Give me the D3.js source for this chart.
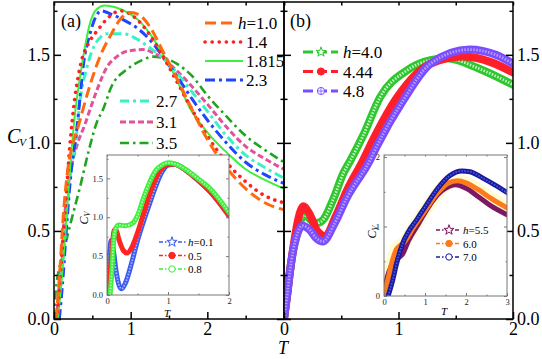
<!DOCTYPE html>
<html>
<head>
<meta charset="utf-8">
<script src="https://cdn.jsdelivr.net/npm/d3@7"></script>
<style>
body { margin: 0; background: #fff; }
svg text { font-family: "Liberation Serif", "Times New Roman", Times, serif; }
</style>
</head>
<body>
<svg id="chart" width="542" height="359"></svg>
<script>
// ---- data read off the figure : [T, Cv] ----
// panel (a), main
var a_h10 = [[0.03,0],[0.08,0.3],[0.12,0.58],[0.18,0.85],[0.25,1.0],[0.32,1.1],[0.45,1.3],[0.6,1.49],[0.75,1.62],[0.86,1.7],[1.0,1.74],[1.1,1.73],[1.25,1.66],[1.42,1.52],[1.6,1.37],[1.8,1.19],[2.0,1.02],[2.25,0.86],[2.5,0.74],[2.75,0.66],[3.0,0.62]];
var a_h14 = [[0.04,0],[0.1,0.35],[0.15,0.65],[0.2,0.95],[0.27,1.25],[0.35,1.45],[0.47,1.58],[0.57,1.64],[0.73,1.72],[0.86,1.75],[1.0,1.73],[1.15,1.67],[1.3,1.58],[1.45,1.47],[1.6,1.35],[1.8,1.19],[2.0,1.04],[2.25,0.89],[2.5,0.78],[2.75,0.7],[3.0,0.66]];
var a_h1815 = [[0.05,0],[0.1,0.22],[0.15,0.5],[0.2,0.8],[0.27,1.15],[0.36,1.43],[0.47,1.68],[0.56,1.76],[0.66,1.78],[0.8,1.77],[1.0,1.73],[1.12,1.69],[1.25,1.62],[1.45,1.48],[1.6,1.36],[1.77,1.2],[2.0,1.06],[2.29,0.93],[2.5,0.85],[2.75,0.79],[3.0,0.74]];
var a_h23 = [[0.07,0],[0.12,0.25],[0.16,0.5],[0.22,0.82],[0.29,1.05],[0.34,1.26],[0.38,1.43],[0.47,1.62],[0.55,1.72],[0.62,1.75],[0.75,1.73],[0.9,1.7],[1.12,1.64],[1.3,1.56],[1.45,1.47],[1.6,1.38],[1.8,1.25],[2.0,1.13],[2.25,1.0],[2.5,0.89],[2.75,0.82],[3.0,0.77]];
var a_h27 = [[0.05,0],[0.1,0.25],[0.15,0.5],[0.21,0.8],[0.29,1.03],[0.34,1.24],[0.43,1.43],[0.55,1.57],[0.7,1.62],[0.9,1.62],[1.08,1.59],[1.25,1.54],[1.45,1.47],[1.6,1.4],[1.8,1.29],[2.0,1.18],[2.25,1.04],[2.5,0.93],[2.75,0.86],[3.0,0.8]];
var a_h31 = [[0.03,0],[0.07,0.2],[0.12,0.5],[0.2,0.8],[0.31,1.0],[0.4,1.1],[0.47,1.19],[0.56,1.3],[0.69,1.43],[0.82,1.49],[0.95,1.52],[1.16,1.53],[1.3,1.51],[1.45,1.47],[1.6,1.41],[1.8,1.32],[2.0,1.22],[2.25,1.09],[2.5,0.98],[2.75,0.91],[3.0,0.85]];
var a_h35 = [[0.0,0],[0.02,0.15],[0.12,0.37],[0.22,0.55],[0.34,0.75],[0.45,0.95],[0.57,1.13],[0.63,1.18],[0.75,1.32],[0.96,1.42],[1.15,1.47],[1.29,1.49],[1.45,1.48],[1.6,1.45],[1.8,1.38],[2.0,1.27],[2.25,1.15],[2.5,1.04],[2.75,0.96],[3.0,0.89]];
var labelsA1 = ["1.0","1.4","1.815","2.3"];
var labelsA2 = ["2.7","3.1","3.5"];

// panel (a), inset
var ai_h01 = [[0,0],[0.03,0.4],[0.07,0.7],[0.1,0.6],[0.15,0.3],[0.2,0.12],[0.24,0.08],[0.3,0.15],[0.4,0.4],[0.5,0.7],[0.6,0.95],[0.7,1.18],[0.8,1.4],[0.9,1.58],[1.0,1.67],[1.1,1.68],[1.3,1.6],[1.5,1.47],[1.7,1.32],[2.0,1.02]];
var ai_h05 = [[0,0],[0.04,0.2],[0.08,0.55],[0.12,0.84],[0.15,0.83],[0.2,0.7],[0.27,0.57],[0.33,0.54],[0.4,0.6],[0.5,0.8],[0.6,1.05],[0.7,1.3],[0.8,1.5],[0.9,1.63],[1.0,1.68],[1.1,1.68],[1.3,1.6],[1.5,1.47],[1.7,1.32],[2.0,1.02]];
var ai_h08 = [[0.05,0],[0.08,0.3],[0.11,0.7],[0.15,0.87],[0.2,0.9],[0.3,0.89],[0.43,0.93],[0.5,1.02],[0.6,1.25],[0.7,1.45],[0.8,1.6],[0.9,1.67],[1.0,1.7],[1.1,1.69],[1.3,1.61],[1.5,1.49],[1.7,1.36],[2.0,1.06]];
var labelsAi = ["0.1","0.5","0.8"];

// panel (b), main
var b_h40 = [[0,0],[0.03,0.15],[0.05,0.26],[0.08,0.39],[0.11,0.48],[0.18,0.59],[0.24,0.56],[0.29,0.545],[0.35,0.57],[0.43,0.68],[0.52,0.83],[0.58,0.9],[0.69,1.04],[0.84,1.26],[1.07,1.41],[1.28,1.47],[1.42,1.48],[1.71,1.42],[2.0,1.33]];
var b_h444 = [[0,0],[0.03,0.15],[0.05,0.26],[0.08,0.4],[0.11,0.52],[0.17,0.64],[0.22,0.6],[0.29,0.5],[0.36,0.47],[0.45,0.58],[0.55,0.73],[0.69,0.9],[0.78,1.02],[0.99,1.26],[1.28,1.45],[1.56,1.49],[1.8,1.46],[2.0,1.4]];
var b_h48 = [[0,0],[0.03,0.15],[0.05,0.26],[0.08,0.39],[0.11,0.47],[0.16,0.53],[0.22,0.51],[0.28,0.46],[0.34,0.44],[0.44,0.54],[0.55,0.69],[0.75,0.9],[0.81,0.98],[1.04,1.24],[1.28,1.45],[1.62,1.53],[1.85,1.5],[2.0,1.45]];
var labelsB = ["4.0","4.44","4.8"];

// panel (b), inset
var bi_h55 = [[0,0],[0.05,0.2],[0.12,0.35],[0.25,0.5],[0.35,0.55],[0.45,0.6],[0.6,0.8],[0.8,1.0],[1.0,1.2],[1.2,1.38],[1.4,1.51],[1.6,1.58],[1.75,1.6],[2.0,1.55],[2.3,1.43],[2.6,1.3],[3.0,1.17]];
var bi_h60 = [[0,0],[0.1,0.25],[0.2,0.5],[0.3,0.67],[0.4,0.73],[0.5,0.78],[0.7,0.97],[1.0,1.23],[1.3,1.48],[1.55,1.62],[1.8,1.66],[2.0,1.63],[2.3,1.53],[2.6,1.41],[3.0,1.27]];
var bi_h70 = [[0.1,0],[0.2,0.2],[0.3,0.45],[0.45,0.75],[0.6,0.93],[0.8,1.1],[1.0,1.28],[1.3,1.54],[1.6,1.73],[1.9,1.8],[2.1,1.79],[2.4,1.7],[2.7,1.6],[3.0,1.49]];
var labelsBi = ["5.5","6.0","7.0"];

// ---- drawing ----
var SERIF = "Liberation Serif, Times New Roman, serif";
var svg = d3.select("#chart");

var xA = d3.scaleLinear().domain([0, 3]).range([54, 284]);
var xB = d3.scaleLinear().domain([0, 2]).range([284, 513]);
var yM = d3.scaleLinear().domain([0, 1.8]).range([319, 2]);
var xAi = d3.scaleLinear().domain([0, 2]).range([107, 229]);
var yAi = d3.scaleLinear().domain([0, 1.8]).range([295, 155]);
var xBi = d3.scaleLinear().domain([0, 3]).range([384, 507]);
var yBi = d3.scaleLinear().domain([0, 2.03]).range([296, 155]);

function clip(id, x0, y0, x1, y1) {
  svg.append("clipPath").attr("id", id).append("rect")
    .attr("x", x0).attr("y", y0).attr("width", x1 - x0).attr("height", y1 - y0);
}
clip("cA", 54, 2, 284, 319);
clip("cB", 284, 2, 513, 319);
clip("cAi", 107, 155, 229, 295);
clip("cBi", 384, 155, 507, 296);

function lineGen(x, y) {
  return d3.line().x(function(d) { return x(d[0]); }).y(function(d) { return y(d[1]); }).curve(d3.curveMonotoneX);
}

// dashed line curve
function curve(g, pts, x, y, color, w, dash, cap) {
  g.append("path").attr("d", lineGen(x, y)(pts))
    .attr("fill", "none").attr("stroke", color).attr("stroke-width", w)
    .attr("stroke-dasharray", dash).attr("stroke-linecap", cap || "butt");
}
// thick band made of dense markers
function band(g, pts, x, y, color, w, inner) {
  g.append("path").attr("d", lineGen(x, y)(pts))
    .attr("fill", "none").attr("stroke", color).attr("stroke-width", w)
    .attr("stroke-linecap", "round").attr("stroke-linejoin", "round");
  if (inner) {
    g.append("path").attr("d", lineGen(x, y)(pts))
      .attr("fill", "none").attr("stroke", inner).attr("stroke-width", w * 0.35)
      .attr("stroke-dasharray", "1.5,1.5");
  }
}

// axes helper: inward ticks
function frameAxes(x, y, opt) {
  var g = svg.append("g");
  var x0 = x.range()[0], x1 = x.range()[1], y0 = y.range()[0], y1 = y.range()[1];
  var big = opt.tick, small = opt.tick / 2;
  g.append("g").attr("transform", "translate(0," + y0 + ")")
    .call(d3.axisBottom(x).tickValues(opt.xMajor).tickSize(-big).tickPadding(opt.pad).tickFormat(opt.xFmt));
  g.append("g").attr("transform", "translate(0," + y0 + ")")
    .call(d3.axisBottom(x).tickValues(opt.xMinor).tickSize(-small).tickFormat(""));
  g.append("g").attr("transform", "translate(0," + y1 + ")")
    .call(d3.axisTop(x).tickValues(opt.xMajor.concat(opt.xMinor)).tickSize(-small).tickFormat(""));
  var yl = opt.yRight ? d3.axisRight(y) : d3.axisLeft(y);
  g.append("g").attr("transform", "translate(" + (opt.yRight ? x1 : x0) + ",0)")
    .call(yl.tickValues(opt.yMajor).tickSize(-big).tickPadding(opt.pad + 1).tickFormat(opt.yFmt));
  var yo = opt.yRight ? d3.axisLeft(y) : d3.axisRight(y);
  g.append("g").attr("transform", "translate(" + (opt.yRight ? x0 : x1) + ",0)")
    .call(yo.tickValues(opt.yMajor).tickSize(-big).tickFormat(""));
  g.append("g").attr("transform", "translate(" + x0 + ",0)")
    .call(d3.axisRight(y).tickValues(opt.yMinor).tickSize(small).tickFormat(""));
  g.append("g").attr("transform", "translate(" + x1 + ",0)")
    .call(d3.axisLeft(y).tickValues(opt.yMinor).tickSize(small).tickFormat(""));
  g.selectAll(".domain").remove();
  g.selectAll("g").attr("font-family", SERIF);
  g.selectAll("line").attr("stroke", opt.color).attr("stroke-width", opt.sw);
  g.selectAll("text").attr("font-size", opt.fs).attr("fill", opt.tc);
  g.append("rect").attr("x", x0).attr("y", y1).attr("width", x1 - x0).attr("height", y0 - y1)
    .attr("fill", "none").attr("stroke", opt.color).attr("stroke-width", opt.sw);
  return g;
}

// ===== panel (a) main =====
var gA = svg.append("g").attr("clip-path", "url(#cA)");
curve(gA, a_h35, xA, yM, "#1fa51f", 2.6, "9,4,2.5,4");
curve(gA, a_h31, xA, yM, "#e0529a", 3, "6,3");
curve(gA, a_h27, xA, yM, "#39f2c4", 3, "9,4,3,4");
curve(gA, a_h23, xA, yM, "#2045ff", 3, "10,4,3,4");
curve(gA, a_h1815, xA, yM, "#3ef03e", 2, null);
curve(gA, a_h14, xA, yM, "#ff2020", 3.6, "0.1,7", "round");
curve(gA, a_h10, xA, yM, "#ff6a10", 3, "11,5");

frameAxes(xA, yM, {
  xMajor: [0, 1, 2, 3], xMinor: [0.5, 1.5, 2.5], xFmt: function(d) { return d < 3 ? d3.format("d")(d) : ""; },
  yMajor: [0, 0.5, 1, 1.5], yMinor: [0.25, 0.75, 1.25, 1.75], yFmt: d3.format(".1f"),
  tick: 7, pad: 3, color: "#000", sw: 1.5, fs: 18, tc: "#000", yRight: false
});

// ===== panel (b) main =====
var gB = svg.append("g").attr("clip-path", "url(#cB)");
band(gB, b_h40, xB, yM, "#2fc62f", 8, "#c8f5c8");
band(gB, b_h444, xB, yM, "#ff1f2a", 8, null);
band(gB, b_h48, xB, yM, "#7a4dff", 8, "#b49dff");

frameAxes(xB, yM, {
  xMajor: [0, 1, 2], xMinor: [0.5, 1.5], xFmt: d3.format("d"),
  yMajor: [0, 0.5, 1, 1.5], yMinor: [0.25, 0.75, 1.25, 1.75], yFmt: d3.format(".1f"),
  tick: 7, pad: 3, color: "#000", sw: 1.5, fs: 18, tc: "#000", yRight: true
});

// ===== inset (a) =====
svg.append("rect").attr("x", 107).attr("y", 155).attr("width", 122).attr("height", 140).attr("fill", "#fff");
var gAi = svg.append("g").attr("clip-path", "url(#cAi)");
band(gAi, ai_h01, xAi, yAi, "#3a5cf0", 5, "#a9b8ff");
band(gAi, ai_h05, xAi, yAi, "#ff2525", 5, null);
band(gAi, ai_h08, xAi, yAi, "#3cf03c", 5, "#b9ffb9");
frameAxes(xAi, yAi, {
  xMajor: [0, 1, 2], xMinor: [0.5, 1.5], xFmt: d3.format("d"),
  yMajor: [0, 0.5, 1, 1.5], yMinor: [0.25, 0.75, 1.25, 1.75], yFmt: d3.format(".1f"),
  tick: 3, pad: 3, color: "#777", sw: 1, fs: 8.5, tc: "#222", yRight: false
});

// ===== inset (b) =====
svg.append("rect").attr("x", 384).attr("y", 155).attr("width", 123).attr("height", 141).attr("fill", "#fff");
var gBi = svg.append("g").attr("clip-path", "url(#cBi)");
band(gBi, bi_h60, xBi, yBi, "#fffbd2", 13, null);
band(gBi, bi_h55, xBi, yBi, "#7d1862", 5, null);
band(gBi, bi_h60, xBi, yBi, "#ff7a1a", 5, null);
band(gBi, bi_h70, xBi, yBi, "#1a1aa0", 5, "#4a5ad8");
frameAxes(xBi, yBi, {
  xMajor: [0, 1, 2, 3], xMinor: [0.5, 1.5, 2.5], xFmt: d3.format("d"),
  yMajor: [0, 1, 2], yMinor: [0.5, 1.5], yFmt: d3.format("d"),
  tick: 3, pad: 3, color: "#777", sw: 1, fs: 8.5, tc: "#222", yRight: false
});

// ===== legends =====
function hText(x, y, lab, withH, fs) {
  var t = svg.append("text").attr("x", x).attr("y", y).attr("font-size", fs).attr("font-family", SERIF);
  if (withH) {
    t.append("tspan").attr("font-style", "italic").text("h");
    t.append("tspan").text("=" + lab);
  } else {
    t.text(lab);
  }
}
var stylesA1 = [["#ff6a10", 3, "11,5", "butt"], ["#ff2020", 3.6, "0.1,7", "round"], ["#3ef03e", 2, null, "butt"], ["#2045ff", 3, "10,4,3,4", "butt"]];
labelsA1.forEach(function(lab, i) {
  var yy = 23 + i * 19;
  var s = stylesA1[i];
  svg.append("line").attr("x1", 205).attr("x2", i === 0 ? 235 : 243).attr("y1", yy).attr("y2", yy)
    .attr("stroke", s[0]).attr("stroke-width", s[1]).attr("stroke-dasharray", s[2]).attr("stroke-linecap", s[3]);
  hText(i === 0 ? 238 : 246, yy + 6, lab, i === 0, 17);
});
var stylesA2 = [["#39f2c4", 3, "9,4,3,4"], ["#e0529a", 3, "6,3"], ["#1fa51f", 2.6, "9,4,2.5,4"]];
labelsA2.forEach(function(lab, i) {
  var yy = 101 + i * 21;
  var s = stylesA2[i];
  svg.append("line").attr("x1", 120).attr("x2", 153).attr("y1", yy).attr("y2", yy)
    .attr("stroke", s[0]).attr("stroke-width", s[1]).attr("stroke-dasharray", s[2]);
  hText(156, yy + 6, lab, false, 17);
});

function marker(x, y, type, size, stroke, fill, plus) {
  svg.append("path").attr("d", d3.symbol().type(type).size(size)())
    .attr("transform", "translate(" + x + "," + y + ")")
    .attr("fill", fill).attr("stroke", stroke).attr("stroke-width", 1);
  if (plus) {
    var r = Math.sqrt(size / Math.PI);
    svg.append("path").attr("d", "M" + (x - r) + "," + y + "H" + (x + r) + "M" + x + "," + (y - r) + "V" + (y + r))
      .attr("stroke", stroke).attr("stroke-width", 0.8);
  }
}

var stylesB = [["#2fc62f", d3.symbolStar, "#fff", false], ["#ff1f2a", d3.symbolCircle, "#ff1f2a", false], ["#7a4dff", d3.symbolCircle, "#fff", true]];
labelsB.forEach(function(lab, i) {
  var yy = 52 + i * 19.5;
  var s = stylesB[i];
  svg.append("line").attr("x1", 303).attr("x2", 338).attr("y1", yy).attr("y2", yy)
    .attr("stroke", s[0]).attr("stroke-width", 3).attr("stroke-dasharray", "10,4");
  marker(321, yy, s[1], i === 0 ? 30 : 40, s[0], s[2], s[3]);
  hText(343, yy + 6, lab, i === 0, 17);
});

var stylesAi = [["#3a5cf0", d3.symbolStar, "#fff"], ["#ff2525", d3.symbolCircle, "#ff2525"], ["#3cf03c", d3.symbolCircle, "#fff"]];
labelsAi.forEach(function(lab, i) {
  var yy = 242 + i * 13.5;
  var s = stylesAi[i];
  svg.append("line").attr("x1", 159).attr("x2", 186).attr("y1", yy).attr("y2", yy)
    .attr("stroke", s[0]).attr("stroke-width", 1.5).attr("stroke-dasharray", "4,2,1.5,2");
  marker(172, yy, s[1], 32, s[0], s[2], false);
  hText(188, yy + 4, lab, i === 0, 11);
});

var stylesBi = [["#7d1862", d3.symbolStar, "#fff"], ["#ff7a1a", d3.symbolCircle, "#ff7a1a"], ["#1a1aa0", d3.symbolCircle, "#fff"]];
labelsBi.forEach(function(lab, i) {
  var yy = 230 + i * 13.5;
  var s = stylesBi[i];
  svg.append("line").attr("x1", 436).attr("x2", 461).attr("y1", yy).attr("y2", yy)
    .attr("stroke", s[0]).attr("stroke-width", 1.5).attr("stroke-dasharray", "4,2,1.5,2");
  marker(449, yy, s[1], 32, s[0], s[2], false);
  hText(463, yy + 4, lab, i === 0, 11);
});

// ===== titles / axis labels =====
function label(x, y, txt, fs, italic, anchor) {
  return svg.append("text").attr("x", x).attr("y", y).attr("font-size", fs).attr("font-family", SERIF)
    .attr("font-style", italic ? "italic" : "normal").attr("text-anchor", anchor || "start").text(txt);
}
label(61, 27, "(a)", 18, false);
label(290, 27, "(b)", 18, false);
label(283, 354, "T", 18, true, "middle");
var cv = label(7, 143, "C", 20, true);
cv.append("tspan").attr("font-size", 11).attr("dx", -1).attr("dy", 3).text("V");

label(167, 317, "T", 11, true, "middle");
label(444, 315, "T", 11, true, "middle");
function insetCv(x, y) {
  var t = svg.append("text").attr("transform", "translate(" + x + "," + y + ") rotate(-90)")
    .attr("font-family", SERIF).attr("font-size", 12).attr("font-style", "italic").attr("text-anchor", "middle");
  t.append("tspan").text("C");
  t.append("tspan").attr("font-size", 8).attr("dy", 2).text("V");
}
insetCv(88, 218);
insetCv(376, 232);
</script>
</body>
</html>
